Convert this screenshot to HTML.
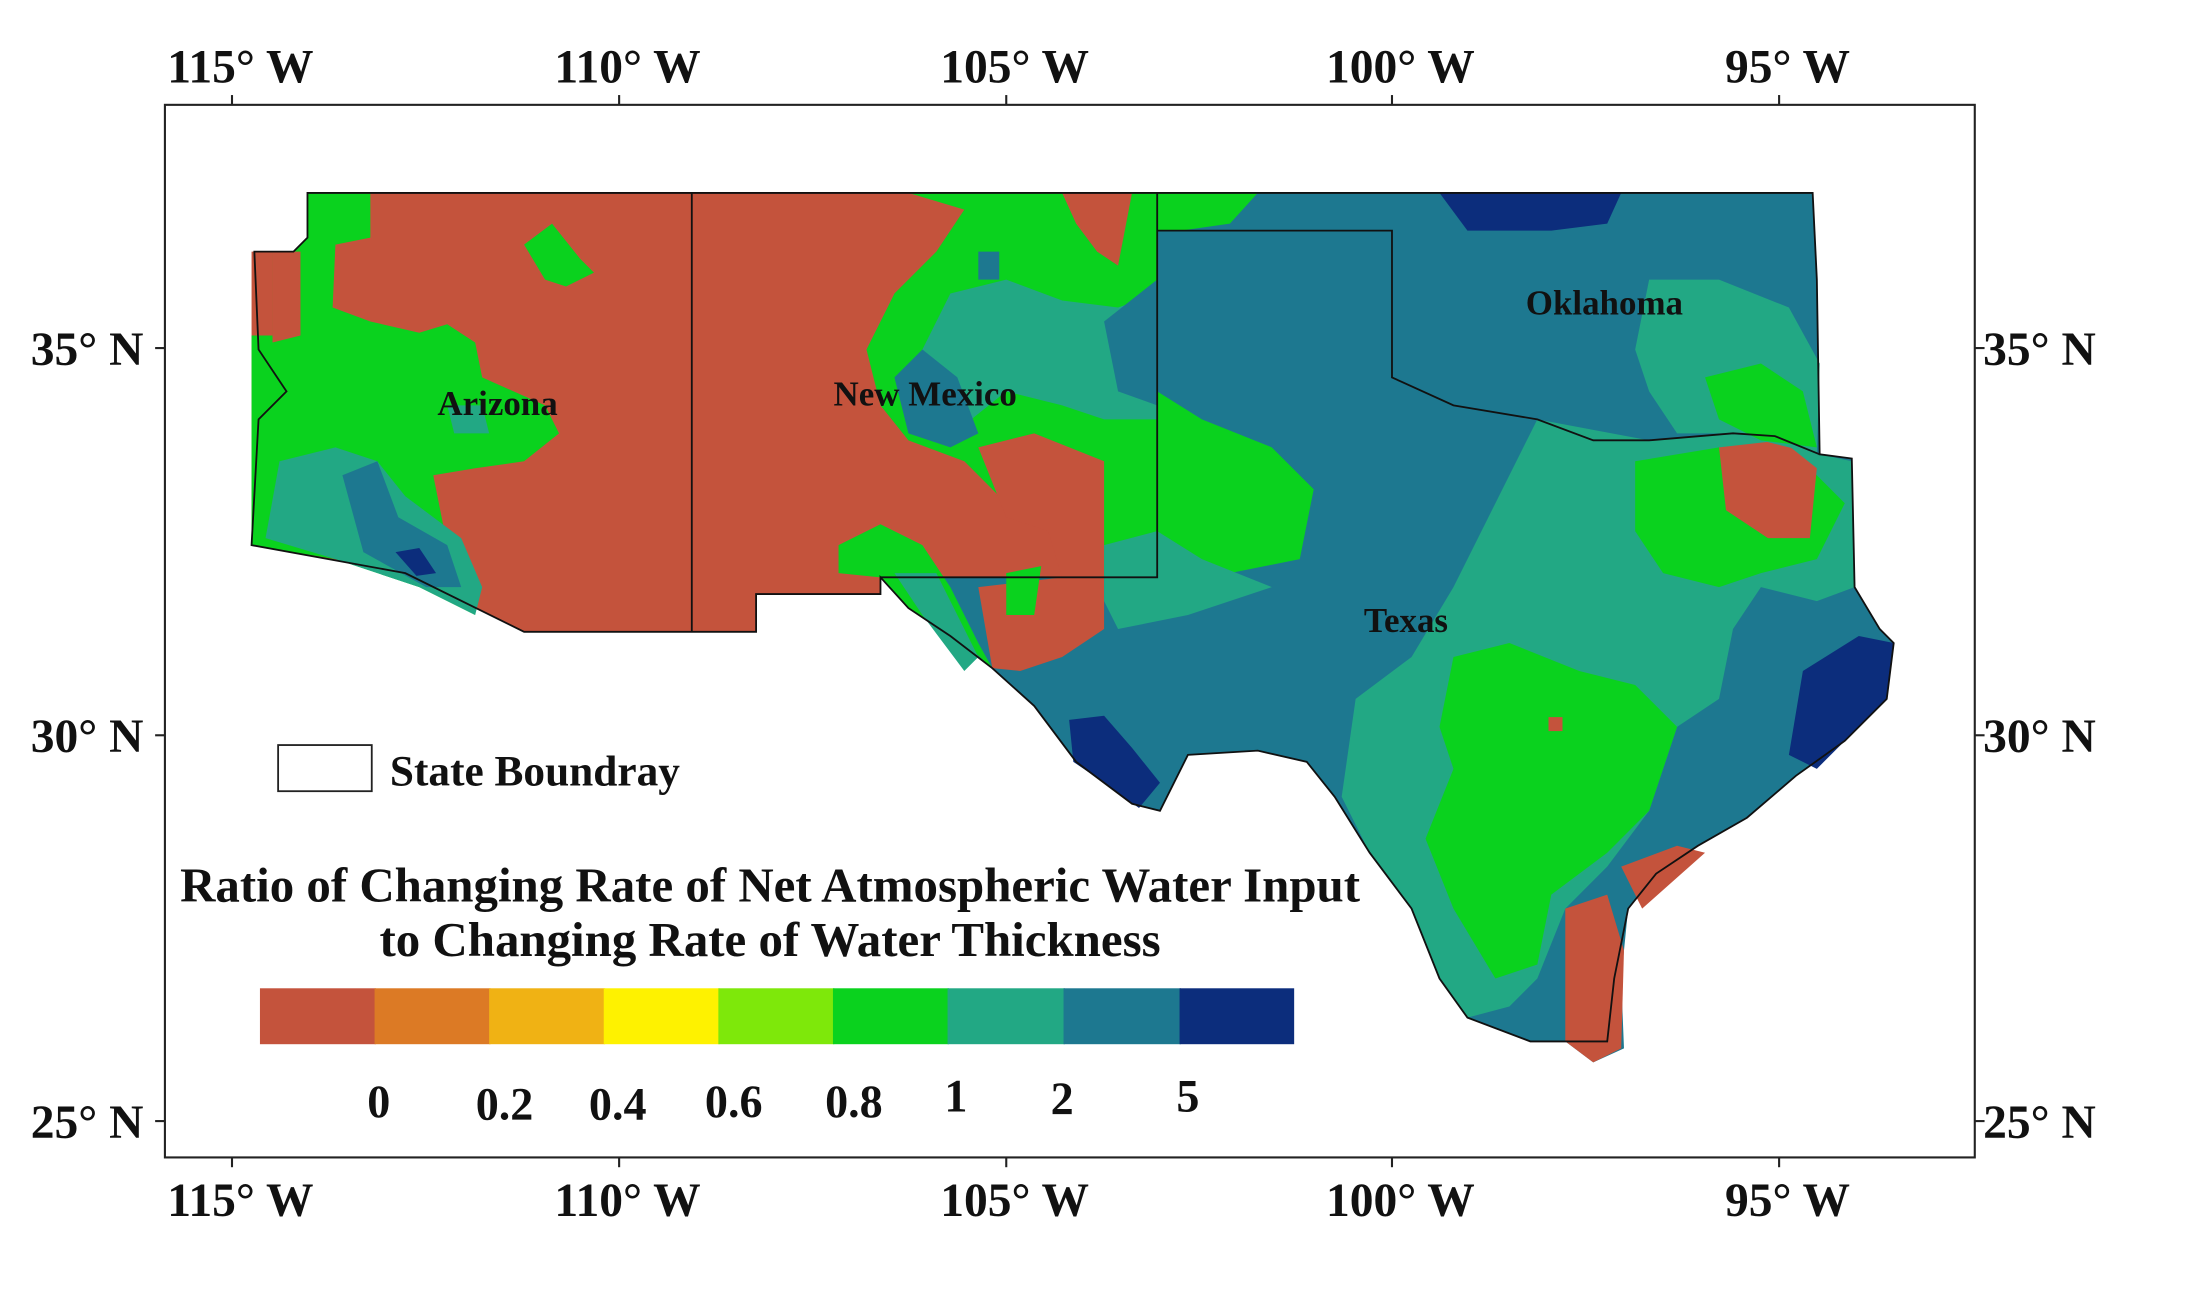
<!DOCTYPE html>
<html><head><meta charset="utf-8"><style>
html,body{margin:0;padding:0;background:#fff;}
svg{display:block}
text{font-family:"Liberation Serif",serif;font-weight:bold;fill:#111}
</style></head><body>
<svg width="2190" height="1307" viewBox="0 0 1567 935" preserveAspectRatio="none" xmlns="http://www.w3.org/2000/svg">
<rect width="1567" height="935" fill="#fff"/>
<rect x="118" y="75" width="1295" height="753" fill="none" stroke="#222" stroke-width="1.5"/>
<g stroke="#222" stroke-width="1.5">
<line x1="166" y1="75" x2="166" y2="68"/><line x1="443" y1="75" x2="443" y2="68"/><line x1="720" y1="75" x2="720" y2="68"/><line x1="996" y1="75" x2="996" y2="68"/><line x1="1273" y1="75" x2="1273" y2="68"/>
<line x1="166" y1="828" x2="166" y2="835"/><line x1="443" y1="828" x2="443" y2="835"/><line x1="720" y1="828" x2="720" y2="835"/><line x1="996" y1="828" x2="996" y2="835"/><line x1="1273" y1="828" x2="1273" y2="835"/>
<line x1="111" y1="249" x2="118" y2="249"/><line x1="111" y1="526" x2="118" y2="526"/><line x1="111" y1="802" x2="118" y2="802"/>
<line x1="1413" y1="249" x2="1420" y2="249"/><line x1="1413" y1="526" x2="1420" y2="526"/><line x1="1413" y1="802" x2="1420" y2="802"/>
</g>
<g font-size="34" text-anchor="middle">
<text x="172" y="59">115° W</text><text x="449" y="59">110° W</text><text x="726" y="59">105° W</text><text x="1002" y="59">100° W</text><text x="1279" y="59">95° W</text>
<text x="172" y="870">115° W</text><text x="449" y="870">110° W</text><text x="726" y="870">105° W</text><text x="1002" y="870">100° W</text><text x="1279" y="870">95° W</text>
</g>
<g font-size="34">
<text x="22" y="261">35° N</text><text x="22" y="538">30° N</text><text x="22" y="814">25° N</text>
<text x="1419" y="261">35° N</text><text x="1419" y="538">30° N</text><text x="1419" y="814">25° N</text>
</g>

<path d="M220,138 L828,138 L828,413 L630,413 L630,425 L541,425 L541,452 L375,452 L290,410 L180,390 L180,180 L210,180 L220,170 Z" fill="#c4533c"/>
<path d="M828,138 L1297,138 L1300,200 L1302,325 L1325,328 L1327,420 L1345,450 L1355,460 L1350,500 L1320,530 L1285,555 L1250,585 L1215,605 L1185,625 L1165,650 L1160,700 L1162,750 L1140,760 L1120,745 L1095,745 L1050,728 L1030,700 L1010,650 L980,610 L955,570 L935,545 L900,537 L850,540 L830,580 L810,575 L770,545 L740,505 L710,478 L680,455 L650,435 L630,413 L828,413 Z" fill="#1d7890"/>
<path d="M220,138 L265,138 L265,170 L240,175 L238,220 L265,230 L300,238 L320,232 L340,245 L345,270 L390,290 L400,310 L375,330 L340,335 L310,340 L320,390 L340,440 L300,420 L240,400 L180,390 L180,240 L195,240 L195,180 L210,180 L220,170 Z" fill="#0ad21e"/>
<path d="M195,180 L215,180 L215,240 L195,245 Z" fill="#c4533c"/>
<path d="M375,175 L395,160 L415,185 L425,195 L405,205 L390,200 Z" fill="#0ad21e"/>
<path d="M200,330 L240,320 L270,330 L290,355 L330,385 L345,420 L340,440 L300,420 L240,400 L190,385 Z" fill="#22a884"/>
<path d="M245,340 L270,330 L285,370 L320,390 L330,420 L305,420 L260,395 Z" fill="#1d7890"/>
<path d="M283,395 L300,392 L312,410 L298,412 Z" fill="#0c2d7c"/>
<path d="M320,290 L345,290 L350,310 L325,310 Z" fill="#22a884"/>
<path d="M650,138 L828,138 L828,413 L790,413 L790,390 L770,370 L720,360 L690,330 L650,315 L630,290 L620,250 L640,210 L670,180 L690,150 Z" fill="#0ad21e"/>
<path d="M760,138 L810,138 L800,190 L785,180 L770,160 Z" fill="#c4533c"/>
<path d="M655,260 L680,210 L720,200 L760,215 L800,220 L828,210 L828,300 L790,300 L760,290 L720,280 L695,300 L665,305 Z" fill="#22a884"/>
<path d="M640,270 L660,250 L685,270 L700,310 L680,320 L650,310 Z" fill="#1d7890"/>
<path d="M700,180 L715,180 L715,200 L700,200 Z" fill="#1d7890"/>
<path d="M790,230 L828,200 L828,290 L800,280 Z" fill="#1d7890"/>
<path d="M700,320 L740,310 L790,330 L790,413 L760,413 L750,380 L720,370 Z" fill="#c4533c"/>
<path d="M600,390 L630,375 L660,390 L680,420 L700,460 L710,478 L690,460 L650,435 L630,413 L600,410 Z" fill="#0ad21e"/>
<path d="M640,410 L670,410 L700,470 L690,480 L660,440 Z" fill="#22a884"/>
<path d="M700,420 L760,413 L790,413 L790,450 L760,470 L730,480 L710,478 Z" fill="#c4533c"/>
<path d="M720,410 L745,405 L740,440 L720,440 Z" fill="#0ad21e"/>
<path d="M828,138 L900,138 L880,160 L845,165 L828,165 Z" fill="#0ad21e"/>
<path d="M828,280 L860,300 L910,320 L940,350 L930,400 L880,410 L828,413 Z" fill="#0ad21e"/>
<path d="M790,390 L828,380 L860,400 L910,420 L850,440 L800,450 L790,430 Z" fill="#22a884"/>
<path d="M1100,300 L1180,315 L1240,310 L1302,325 L1325,330 L1327,420 L1300,430 L1260,420 L1240,450 L1230,500 L1200,520 L1180,580 L1150,620 L1120,650 L1100,700 L1080,720 L1050,728 L1030,700 L1010,650 L980,610 L960,570 L970,500 L1010,470 L1040,420 L1070,360 Z" fill="#22a884"/>
<path d="M1170,330 L1230,320 L1290,330 L1320,360 L1300,400 L1260,410 L1230,420 L1190,410 L1170,380 Z" fill="#0ad21e"/>
<path d="M1230,320 L1275,315 L1300,335 L1295,385 L1265,385 L1235,365 Z" fill="#c4533c"/>
<path d="M1040,470 L1080,460 L1130,480 L1170,490 L1200,520 L1180,580 L1150,610 L1110,640 L1100,690 L1070,700 L1040,650 L1020,600 L1040,550 L1030,520 Z" fill="#0ad21e"/>
<path d="M1180,200 L1230,200 L1280,220 L1302,260 L1300,325 L1240,310 L1200,310 L1180,280 L1170,250 Z" fill="#22a884"/>
<path d="M1220,270 L1260,260 L1290,280 L1300,320 L1260,315 L1230,300 Z" fill="#0ad21e"/>
<path d="M1030,138 L1160,138 L1150,160 L1110,165 L1050,165 Z" fill="#0c2d7c"/>
<path d="M1290,480 L1330,455 L1355,460 L1350,500 L1320,530 L1300,550 L1280,540 Z" fill="#0c2d7c"/>
<path d="M765,515 L790,512 L810,535 L830,560 L815,578 L790,560 L768,545 Z" fill="#0c2d7c"/>
<path d="M1120,650 L1150,640 L1162,680 L1160,750 L1140,760 L1120,745 Z" fill="#c4533c"/>
<path d="M1160,620 L1200,605 L1220,610 L1175,650 Z" fill="#c4533c"/>
<path d="M1108,513 L1118,513 L1118,523 L1108,523 Z" fill="#c4533c"/>
<g fill="none" stroke="#111" stroke-width="1.3">
<path d="M220,138 L1297,138 L1300,200 L1302,325 L1325,328 L1327,420 L1345,450 L1355,460 L1350,500 L1320,530 L1285,555 L1250,585 L1215,605 L1185,625 L1165,650 L1155,700 L1150,745 L1140,745 L1095,745 L1050,728 L1030,700 L1010,650 L980,610 L955,570 L935,545 L900,537 L850,540 L830,580 L810,575 L770,545 L740,505 L710,478 L680,455 L650,435 L630,413 L630,425 L541,425 L541,452 L375,452 L290,410 L180,390 L185,300 L205,280 L185,250 L182,180 L210,180 L220,170 Z"/>
<path d="M495,138 L495,452"/>
<path d="M828,138 L828,413 L630,413"/>
<path d="M828,165 L996,165 L996,270 L1040,290 L1100,300 L1140,315 L1180,315 L1240,310 L1270,312 L1302,325"/>
</g>
<g font-size="25" text-anchor="middle">
<text x="356" y="297">Arizona</text><text x="662" y="290">New Mexico</text><text x="1148" y="225">Oklahoma</text><text x="1006" y="452">Texas</text>
</g>
<rect x="199" y="533" width="67" height="33" fill="#fff" stroke="#222" stroke-width="1.3"/>
<text x="279" y="562" font-size="31">State Boundray</text>
<g font-size="35" text-anchor="middle">
<text x="551" y="645">Ratio of Changing Rate of Net Atmospheric Water Input</text>
<text x="551" y="684">to Changing Rate of Water Thickness</text>
</g>
<g>
<rect x="186" y="707" width="83" height="40" fill="#c4533c"/>
<rect x="268" y="707" width="83" height="40" fill="#dc7a25"/>
<rect x="350" y="707" width="83" height="40" fill="#f0b214"/>
<rect x="432" y="707" width="83" height="40" fill="#fef200"/>
<rect x="514" y="707" width="83" height="40" fill="#7ee80a"/>
<rect x="596" y="707" width="83" height="40" fill="#0ad21e"/>
<rect x="678" y="707" width="84" height="40" fill="#22a884"/>
<rect x="761" y="707" width="84" height="40" fill="#1d7890"/>
<rect x="844" y="707" width="82" height="40" fill="#0c2d7c"/>
</g>
<g font-size="33" text-anchor="middle">
<text x="271" y="799">0</text><text x="361" y="801">0.2</text><text x="442" y="801">0.4</text><text x="525" y="799">0.6</text><text x="611" y="799">0.8</text><text x="684" y="795">1</text><text x="760" y="797">2</text><text x="850" y="795">5</text>
</g>
</svg>
</body></html>
